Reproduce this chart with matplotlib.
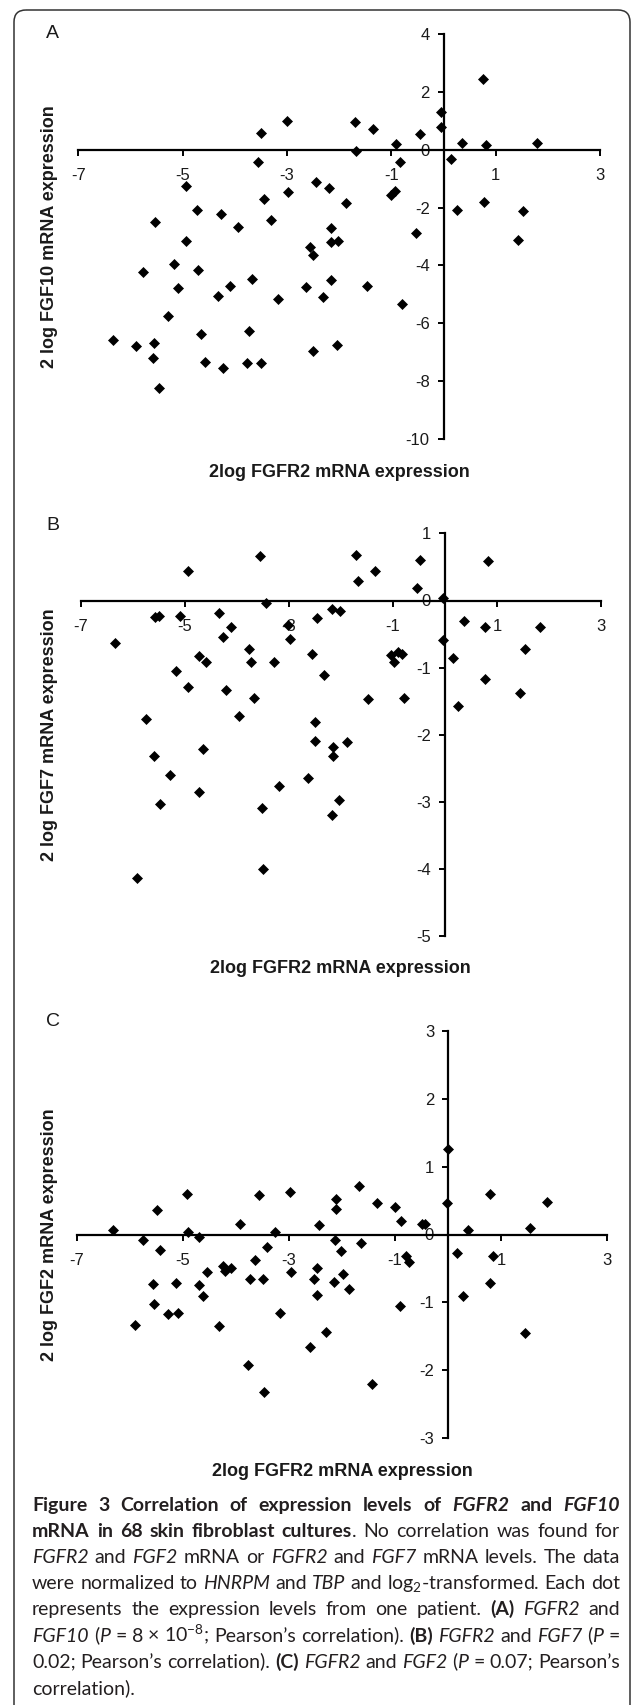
import matplotlib
matplotlib.use("Agg")
import matplotlib.pyplot as plt
from matplotlib.patches import FancyBboxPatch

W, H = 633, 1705

# ---- panel A: FGFR2 vs FGF10 ----
fgfr2_a = [0.75, -0.05, -0.05, -3.01, -1.70, -1.35, -3.51, -0.46, -0.91, 0.35,
           0.81, 1.80, -1.68, -3.55, -0.83, 0.14, -4.94, -2.99, -2.45, -2.19,
           -0.94, -1.00, -3.44, -1.88, 0.77, 0.25, 1.53, -4.72, -4.27, -3.30,
           -5.53, -3.95, -2.15, -0.52, -4.94, -2.16, -2.02, 1.43, -2.56, -2.51,
           -5.16, -5.77, -4.71, -3.67, -2.15, -5.09, -4.10, -2.64, -1.47, -4.33,
           -2.32, -3.18, -0.79, -5.29, -4.66, -3.74, -6.34, -5.90, -5.56, -2.50,
           -2.05, -5.58, -4.57, -3.77, -3.50, -4.22, -5.46]
fgf10_a = [2.44, 1.29, 0.77, 1.00, 0.96, 0.71, 0.57, 0.55, 0.21, 0.22,
           0.16, 0.22, -0.04, -0.41, -0.41, -0.33, -1.27, -1.46, -1.13, -1.32,
           -1.43, -1.57, -1.71, -1.85, -1.80, -2.08, -2.13, -2.09, -2.21, -2.43,
           -2.51, -2.67, -2.72, -2.89, -3.17, -3.19, -3.17, -3.11, -3.38, -3.63,
           -3.96, -4.24, -4.17, -4.46, -4.52, -4.78, -4.72, -4.76, -4.70, -5.06,
           -5.08, -5.17, -5.32, -5.76, -6.36, -6.28, -6.57, -6.80, -6.67, -6.95,
           -6.76, -7.19, -7.33, -7.39, -7.39, -7.55, -8.23]

# ---- panel B: FGFR2 vs FGF7 ----
fgfr2_b = [-4.94, -3.56, -1.70, -0.47, 0.82, -1.34, -1.67, -0.53, -0.03, -3.43,
           -5.56, -5.50, -5.09, -4.33, -4.10, -4.27, -2.45, -2.17, -2.02, -3.01,
           -2.98, 0.36, 0.78, 1.82, -6.33, -0.04, 1.54, -3.77, -4.73, -4.59,
           -3.73, -3.29, -2.56, -1.03, -0.90, -0.82, -0.97, 0.15, -5.16, -2.33,
           -4.94, -4.21, 0.78, -3.67, -1.47, -0.78, 1.45, 0.26, -5.75, -3.95,
           -2.50, -2.50, -2.15, -1.88, -2.15, -5.59, -4.65, -5.29, -2.63, -3.18,
           -4.73, -5.47, -3.51, -2.04, -2.16, -3.50, -5.91]
fgf7_b = [0.44, 0.67, 0.68, 0.61, 0.59, 0.44, 0.29, 0.19, 0.04, -0.03,
          -0.25, -0.23, -0.23, -0.19, -0.40, -0.55, -0.26, -0.12, -0.16, -0.36,
          -0.58, -0.31, -0.40, -0.40, -0.63, -0.59, -0.72, -0.72, -0.82, -0.92,
          -0.91, -0.91, -0.79, -0.81, -0.77, -0.79, -0.91, -0.86, -1.05, -1.11,
          -1.29, -1.33, -1.17, -1.45, -1.47, -1.45, -1.38, -1.57, -1.77, -1.72,
          -1.81, -2.10, -2.19, -2.11, -2.31, -2.31, -2.21, -2.60, -2.64, -2.76,
          -2.85, -3.04, -3.09, -2.97, -3.19, -4.00, -4.14]

# ---- panel C: FGFR2 vs FGF2 ----
fgfr2_c = [0.00, -6.32, -5.75, -5.50, -5.43, -4.92, -4.91, -4.70, -4.55, -4.24,
           -4.20, -4.09, -3.93, -3.65, -3.56, -3.41, -3.27, -2.99, -2.97, -3.73,
           -3.50, -5.57, -5.14, -4.69, -4.63, -5.55, -5.28, -5.09, -5.90, -4.32,
           -3.17, -2.43, -2.47, -2.53, -2.47, -2.12, -2.11, -2.13, -2.01, -1.99,
           -2.15, -1.86, -2.30, -2.61, -1.67, -1.65, -1.34, -1.00, -0.88, -0.49,
           -0.43, -0.80, -0.74, -0.91, -0.02, 0.38, 0.17, 0.29, 0.80, 0.84,
           0.80, 1.55, 1.86, 1.46, -3.77, -3.47, -1.44]
fgf2_c = [1.26, 0.07, -0.08, 0.36, -0.23, 0.60, 0.03, -0.04, -0.55, -0.46,
          -0.54, -0.49, 0.16, -0.37, 0.58, -0.18, 0.04, 0.62, -0.56, -0.65,
          -0.66, -0.73, -0.72, -0.74, -0.90, -1.03, -1.17, -1.15, -1.33, -1.35,
          -1.15, 0.14, -0.49, -0.65, -0.89, 0.53, 0.37, -0.08, -0.25, -0.58,
          -0.70, -0.80, -1.43, -1.66, 0.71, -0.12, 0.47, 0.40, 0.20, 0.16,
          0.15, -0.32, -0.40, -1.06, 0.46, 0.06, -0.27, -0.90, 0.60, -0.32,
          -0.72, 0.09, 0.48, -1.45, -1.93, -2.32, -2.20]

x_ticks = [-7, -5, -3, -1, 1, 3]
xlabel = "2log FGFR2 mRNA expression"

caption_lines = [
    [("Figure 3 Correlation of expression levels of ", "b"), ("FGFR2", "bi"), (" and ", "b"), ("FGF10", "bi")],
    [("mRNA in 68 skin fibroblast cultures", "b"), (". No correlation was found for", "r")],
    [("FGFR2", "i"), (" and ", "r"), ("FGF2", "i"), (" mRNA or ", "r"), ("FGFR2", "i"), (" and ", "r"),
     ("FGF7", "i"), (" mRNA levels. The data", "r")],
    [("were normalized to ", "r"), ("HNRPM", "i"), (" and ", "r"), ("TBP", "i"),
     (" and log$_2$-transformed. Each dot", "r")],
    [("represents the expression levels from one patient. ", "r"), ("(A)", "b"), (" ", "r"),
     ("FGFR2", "i"), (" and", "r")],
    [("FGF10", "i"), (" (", "r"), ("P", "i"), (" = 8 \u00d7 10$^{-8}$; Pearson\u2019s correlation). ", "r"),
     ("(B)", "b"), (" ", "r"), ("FGFR2", "i"), (" and ", "r"), ("FGF7", "i"), (" (", "r"), ("P", "i"), (" =", "r")],
    [("0.02; Pearson\u2019s correlation). ", "r"), ("(C)", "b"), (" ", "r"), ("FGFR2", "i"), (" and ", "r"),
     ("FGF2", "i"), (" (", "r"), ("P", "i"), (" = 0.07; Pearson\u2019s", "r")],
    [("correlation).", "r")],
]

plt.rcParams["font.family"] = "Liberation Sans"
plt.rcParams["axes.unicode_minus"] = False
plt.rcParams["mathtext.fontset"] = "custom"
plt.rcParams["mathtext.rm"] = "Lato"
plt.rcParams["mathtext.it"] = "Lato:italic"

fig = plt.figure(figsize=(W / 100, H / 100), dpi=100)
fig.patch.set_facecolor("white")

# full-figure canvas in pixel coordinates for the frame, labels and caption
canvas = fig.add_axes([0, 0, 1, 1], zorder=0)
canvas.set_xlim(0, W)
canvas.set_ylim(H, 0)
canvas.axis("off")
canvas.add_patch(FancyBboxPatch((14, 10), 616, 1800, boxstyle="round,pad=0,rounding_size=12",
                                fc="none", ec="#333333", lw=1.1))

panels = [
    dict(letter="A", x=fgfr2_a, y=fgf10_a, ylim=(-10, 4), yticks=list(range(-10, 5, 2)),
         ylabel="2 log FGF10 mRNA expression", box=(78.5, 600, 34, 439), xlab_y=472.7, letter_y=34),
    dict(letter="B", x=fgfr2_b, y=fgf7_b, ylim=(-5, 1), yticks=list(range(-5, 2)),
         ylabel="2 log FGF7 mRNA expression", box=(80.5, 601, 533.4, 936), xlab_y=968.3, letter_y=525),
    dict(letter="C", x=fgfr2_c, y=fgf2_c, ylim=(-3, 3), yticks=list(range(-3, 4)),
         ylabel="2 log FGF2 mRNA expression", box=(77, 607, 1031, 1438), xlab_y=1471.7, letter_y=1021),
]

for p in panels:
    x0, x1, yt, yb = p["box"]
    ax = fig.add_axes([x0 / W, 1 - yb / H, (x1 - x0) / W, (yb - yt) / H], zorder=1)
    ax.patch.set_visible(False)
    ax.plot(p["x"], p["y"], "D", ms=5.2, color="black", mew=0.5, ls="none", clip_on=False, zorder=3)
    ax.set_xlim(-7, 3)
    ax.set_ylim(*p["ylim"])
    for s in ["top", "right"]:
        ax.spines[s].set_visible(False)
    ax.spines["left"].set_position(("data", 0))
    ax.spines["bottom"].set_position(("data", 0))
    for s in ["left", "bottom"]:
        ax.spines[s].set_linewidth(1.6)
    ax.set_xticks(x_ticks)
    ax.set_yticks(p["yticks"])
    ax.tick_params(axis="x", length=4, width=1.4, pad=9, labelsize=12, labelcolor="#1a1a1a")
    ax.tick_params(axis="y", length=4, width=1.4, pad=6, labelsize=12, labelcolor="#1a1a1a")

    canvas.text(50, (yt + yb) / 2, p["ylabel"], rotation=90, ha="center", va="center",
                fontsize=13, fontweight="bold", color="#1a1a1a")
    canvas.text((x0 + x1) / 2, p["xlab_y"], xlabel, ha="center", va="center",
                fontsize=13, fontweight="bold", color="#1a1a1a")
    canvas.text(46, p["letter_y"], p["letter"], ha="left", va="center", fontsize=14, color="#1a1a1a")

# ---- caption, justified word by word ----
styles = {"r": ("normal", "normal"), "b": ("bold", "normal"),
          "i": ("normal", "italic"), "bi": ("bold", "italic")}
renderer = fig.canvas.get_renderer()
cap_left, cap_right = 32, 620
cap_font = "Lato"


def words_of(line):
    words = [[]]
    for text, st in line:
        for k, part in enumerate(text.split(" ")):
            if k > 0:
                words.append([])
            if part:
                words[-1].append((part, st))
    return [w for w in words if w]


def width(text, st, size):
    wt, sl = styles[st]
    t = canvas.text(0, 0, text, fontsize=size, family=cap_font, fontweight=wt, fontstyle=sl)
    w = t.get_window_extent(renderer).width
    t.remove()
    return w


# largest size where every justified line still fits with somewhat tight spaces
size = 14.0
space = width("a a", "r", size) - width("aa", "r", size)
natural = []
for line in caption_lines[:-1]:
    ws = words_of(line)
    natural.append(sum(width(p, st, size) for w in ws for p, st in w) + 0.7 * space * (len(ws) - 1))
scale = min(1.0, (cap_right - cap_left) / max(natural))
size *= scale
space = width("a a", "r", size) - width("aa", "r", size)

for i, line in enumerate(caption_lines):
    ws = words_of(line)
    wlen = [[width(p, st, size) for p, st in w] for w in ws]
    total = sum(sum(l) for l in wlen)
    if i < len(caption_lines) - 1 and len(ws) > 1:
        gap = (cap_right - cap_left - total) / (len(ws) - 1)
    else:
        gap = space
    x = cap_left
    y = 1511 + 26.1 * i
    for w, lens in zip(ws, wlen):
        for (p, st), l in zip(w, lens):
            wt, sl = styles[st]
            canvas.text(x, y, p, fontsize=size, family=cap_font, fontweight=wt, fontstyle=sl,
                        ha="left", va="baseline", color="#231f20")
            x += l
        x += gap

fig.savefig("out.png", dpi=100, facecolor="white")
